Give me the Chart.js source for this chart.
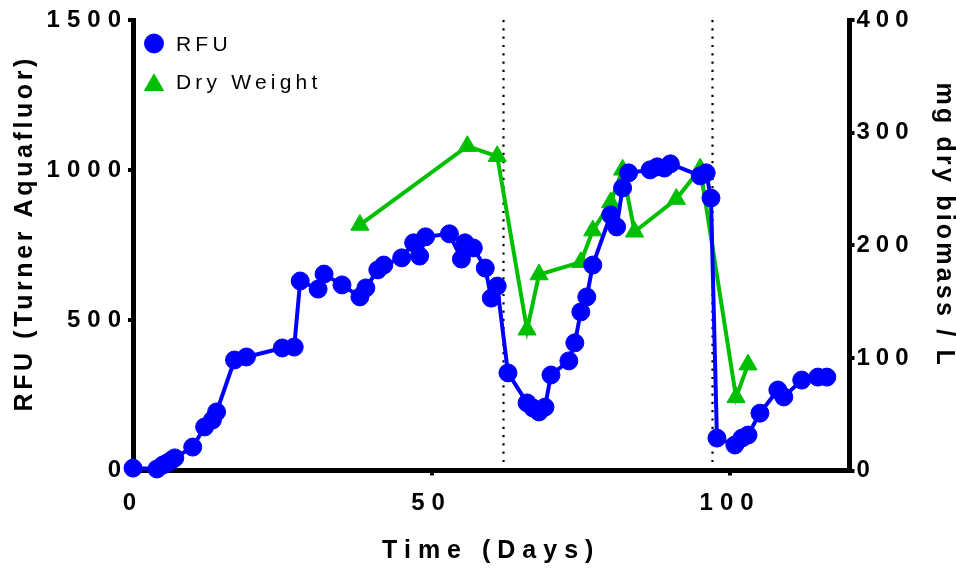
<!DOCTYPE html>
<html>
<head>
<meta charset="utf-8">
<script src="https://cdn.jsdelivr.net/npm/chart.js@4.4.1/dist/chart.umd.min.js"></script>
<style>
  html, body { margin: 0; padding: 0; background: #fff; }
  #c { display: block; }
</style>
</head>
<body>
<canvas id="c" width="956" height="569"></canvas>
<script>
// Culture time course: fluorescence (left axis) and dry biomass (right axis)
const rfuDays = [0, 4, 5, 5.7, 6.5, 7, 10, 12, 13.3, 14, 17, 19, 25, 27, 28, 31, 32, 35, 38, 39,
  41, 42, 45, 47, 48, 49, 53, 55, 55.6, 57, 59, 60, 61, 62.8, 66, 67, 68, 69, 70, 73,
  74, 75, 76, 77, 80, 81, 82, 83, 86.6, 87.8, 89, 90, 95, 96, 96.8, 97.8, 100.8, 102, 103, 105,
  108, 109, 112, 114.7, 116.2];
const rfuValues = [8, 5, 18, 25, 35, 42, 78, 145, 168, 195, 368, 378, 408, 411, 631, 604, 654, 618, 578, 608,
  668, 684, 708, 758, 714, 778, 788, 704, 758, 741, 674, 574, 614, 325, 225, 208, 195, 211, 318, 365,
  425, 528, 578, 684, 851, 811, 941, 991, 1001, 1011, 1007, 1021, 981, 991, 907, 108, 85, 108, 118, 191,
  268, 245, 301, 311, 311];

const dwDays = [38, 56, 61, 66, 68, 75, 77, 80, 82, 84, 91, 95, 101, 103];
const dwValues = [218, 288, 279, 125, 174, 185, 213, 238, 267, 212, 241, 268, 65, 94];

// Days on which the culture was harvested / diluted
const harvestDays = [62, 97];

const xTickValues = [0, 50, 100];
const rfuTickValues = [0, 500, 1000, 1500];
const dwTickValues = [0, 100, 200, 300, 400];

const BLUE = '#0000ff';
const GREEN = '#00bf00';
const FONT = '"Liberation Sans", Arial, Helvetica, sans-serif';

const fixedTicks = (values) => (scale) => { scale.ticks = values.map(v => ({ value: v })); };
const plainNumber = (v) => String(v);

// Per-scale letter spacing for tick labels and titles, plus small title nudges
const textStyle = {
  x:  { labels: '7px', title: '7px', titleShift: 0 },
  y:  { labels: '7px', title: '3.6px', titleShift: -12 },
  y1: { labels: '6px', title: '3.2px', titleShift: -20 }
};

const spacingPlugin = {
  id: 'letterSpacing',
  afterUpdate(chart) {
    Object.values(chart.scales).forEach(scale => {
      if (scale._spaced) return;
      scale._spaced = true;
      const st = textStyle[scale.id];
      const drawLabels = scale.drawLabels;
      const drawTitle = scale.drawTitle;
      scale.drawLabels = function (area) {
        const c = this.ctx; c.save(); c.letterSpacing = st.labels;
        drawLabels.call(this, area); c.restore();
      };
      scale.drawTitle = function () {
        const c = this.ctx; c.save(); c.letterSpacing = st.title;
        c.translate(0, st.titleShift);
        drawTitle.call(this); c.restore();
      };
    });
  }
};

// Dotted vertical markers at harvest days
const harvestLines = {
  id: 'harvestLines',
  beforeDatasetsDraw(chart) {
    const { ctx, chartArea: a, scales: { x } } = chart;
    ctx.save();
    ctx.strokeStyle = '#000';
    ctx.lineWidth = 2.2;
    ctx.setLineDash([2.2, 6.1]);
    harvestDays.forEach(d => {
      const px = Math.round(x.getPixelForValue(d)) + 0.5;
      ctx.beginPath();
      ctx.moveTo(px, a.top);
      ctx.lineTo(px, a.bottom - 3);
      ctx.stroke();
    });
    ctx.restore();
  }
};

// Legend drawn inside the plot, top-left
const insideLegend = {
  id: 'insideLegend',
  afterDraw(chart) {
    const { ctx, chartArea: a } = chart;
    ctx.save();
    ctx.letterSpacing = '4.2px';
    ctx.font = '21px ' + FONT;
    ctx.textBaseline = 'middle';
    ctx.textAlign = 'left';
    chart.data.datasets.forEach((ds, i) => {
      const cy = a.top + 25 + i * 38;
      const cx = a.left + 21;
      ctx.fillStyle = ds.pointBackgroundColor;
      ctx.strokeStyle = ds.pointBorderColor;
      const isTri = ds.pointStyle === 'triangle';
      Chart.helpers.drawPoint(ctx, {
        pointStyle: ds.pointStyle,
        radius: isTri ? 11 : 9.5,
        borderWidth: 1
      }, cx, isTri ? cy + 2 : cy - 1.5);
      ctx.fillStyle = '#000';
      ctx.fillText(ds.label, a.left + 43, cy + 0.5);
    });
    ctx.restore();
  }
};

const axisBase = {
  border: { display: true, color: '#000', width: 5 },
  grid: { drawOnChartArea: false, drawTicks: true, tickLength: 5, lineWidth: 4, color: '#000' }
};

new Chart(document.getElementById('c'), {
  type: 'line',
  data: {
    datasets: [
      {
        label: 'RFU',
        data: rfuDays.map((d, i) => ({ x: d, y: rfuValues[i] })),
        yAxisID: 'y',
        borderColor: BLUE,
        backgroundColor: BLUE,
        borderWidth: 4,
        pointStyle: 'circle',
        pointRadius: 9,
        pointBorderWidth: 1,
        pointBackgroundColor: BLUE,
        pointBorderColor: BLUE,
        tension: 0,
        clip: false
      },
      {
        label: 'Dry Weight',
        data: dwDays.map((d, i) => ({ x: d, y: dwValues[i] })),
        yAxisID: 'y1',
        borderColor: GREEN,
        backgroundColor: GREEN,
        borderWidth: 4,
        pointStyle: 'triangle',
        pointRadius: 10.5,
        pointBorderWidth: 1,
        pointBackgroundColor: GREEN,
        pointBorderColor: GREEN,
        tension: 0,
        clip: false
      }
    ]
  },
  options: {
    responsive: false,
    animation: false,
    devicePixelRatio: 1,
    layout: { padding: { top: 20, left: 0, right: 0, bottom: 0 } },
    plugins: {
      legend: { display: false },
      tooltip: { enabled: false }
    },
    scales: {
      x: {
        ...axisBase,
        type: 'linear',
        position: 'bottom',
        min: 0,
        max: 120,
        afterBuildTicks: fixedTicks(xTickValues),
        afterFit: (s) => { s.height = 98.5; },
        ticks: {
          color: '#000', padding: 13, maxRotation: 0, autoSkip: false,
          callback: plainNumber,
          font: { family: FONT, size: 24, weight: 'bold' }
        },
        title: {
          display: true, text: 'Time (Days)', color: '#000',
          font: { family: FONT, size: 25, weight: 'bold', lineHeight: 1 },
          padding: { top: 0, bottom: 5 }
        }
      },
      y: {
        ...axisBase,
        type: 'linear',
        position: 'left',
        min: 0,
        max: 1500,
        afterBuildTicks: fixedTicks(rfuTickValues),
        afterFit: (s) => { s.width = 133; },
        ticks: {
          color: '#000', padding: 0, autoSkip: false,
          callback: plainNumber,
          font: { family: FONT, size: 24, weight: 'bold' }
        },
        title: {
          display: true, text: 'RFU (Turner Aquafluor)', color: '#000',
          font: { family: FONT, size: 25, weight: 'bold', lineHeight: 1 },
          padding: { top: 13, bottom: 0 }
        }
      },
      y1: {
        ...axisBase,
        type: 'linear',
        position: 'right',
        min: 0,
        max: 400,
        afterBuildTicks: fixedTicks(dwTickValues),
        afterFit: (s) => { s.width = 106.5; },
        ticks: {
          color: '#000', padding: 2, autoSkip: false,
          callback: plainNumber,
          font: { family: FONT, size: 24, weight: 'bold' }
        },
        title: {
          display: true, text: 'mg dry biomass / L', color: '#000',
          font: { family: FONT, size: 25, weight: 'bold', lineHeight: 1 },
          padding: { top: 0, bottom: 0 }
        }
      }
    }
  },
  plugins: [spacingPlugin, harvestLines, insideLegend]
});
</script>
</body>
</html>
